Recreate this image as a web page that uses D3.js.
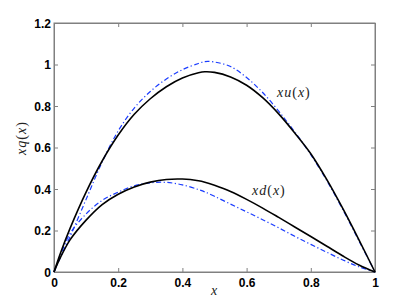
<!DOCTYPE html>
<html>
<head>
<meta charset="utf-8">
<script src="https://cdn.jsdelivr.net/npm/d3@7"></script>
<style>
  body { margin: 0; background: #fff; }
  svg { display: block; }
  .tick text { font-family: "Liberation Sans", Arial, sans-serif; font-weight: bold; font-size: 12px; fill: #000; }
  .math { font-family: "Liberation Serif", "DejaVu Serif", serif; font-size: 14px; fill: #222; }
</style>
</head>
<body>
<div id="chart"></div>
<script>
// valores
const xs = [0, 0.02, 0.05, 0.1, 0.15, 0.2, 0.25, 0.3, 0.35, 0.4, 0.45, 0.47, 0.5, 0.55, 0.6, 0.65, 0.7, 0.75, 0.8, 0.85, 0.9, 0.95, 1];
const xuFit  = [0, 0.09, 0.21, 0.385, 0.535, 0.66, 0.76, 0.835, 0.893, 0.935, 0.96, 0.965, 0.962, 0.94, 0.9, 0.84, 0.762, 0.67, 0.57, 0.445, 0.305, 0.155, 0];
const xuRef  = [0, 0.07, 0.17, 0.35, 0.53, 0.68, 0.79, 0.87, 0.93, 0.975, 1.005, 1.014, 1.012, 0.99, 0.937, 0.865, 0.775, 0.675, 0.565, 0.44, 0.3, 0.15, 0];
const xdFit  = [0, 0.07, 0.155, 0.25, 0.325, 0.375, 0.41, 0.433, 0.446, 0.448, 0.44, 0.433, 0.418, 0.388, 0.35, 0.308, 0.263, 0.217, 0.171, 0.124, 0.077, 0.034, 0];
const xdRef  = [0, 0.08, 0.185, 0.28, 0.345, 0.385, 0.415, 0.43, 0.432, 0.42, 0.397, 0.386, 0.365, 0.327, 0.29, 0.252, 0.213, 0.172, 0.133, 0.095, 0.058, 0.025, 0];

const xTicks = [0, 0.2, 0.4, 0.6, 0.8, 1];
const yTicks = [0, 0.2, 0.4, 0.6, 0.8, 1, 1.2];

const W = 415, H = 307;
const plot = { left: 54, right: 375, top: 23, bottom: 272 };

const svg = d3.select("#chart").append("svg")
    .attr("width", W)
    .attr("height", H);

const x = d3.scaleLinear().domain([0, 1]).range([plot.left, plot.right]);
const y = d3.scaleLinear().domain([0, 1.2]).range([plot.bottom, plot.top]);

const fmt = d => (d === 0 || d === 1) ? String(d) : d.toFixed(1);

// ejes con marcas hacia dentro
const gx = svg.append("g")
    .attr("transform", `translate(0, ${plot.bottom})`)
    .call(d3.axisBottom(x).tickValues(xTicks).tickFormat(fmt).tickSizeInner(-4).tickSizeOuter(0));
gx.selectAll("text").attr("y", 6).attr("dy", "0.71em");

svg.append("g")
    .attr("transform", `translate(0, ${plot.top})`)
    .call(d3.axisTop(x).tickValues(xTicks).tickFormat("").tickSizeInner(-4).tickSizeOuter(0));

const gy = svg.append("g")
    .attr("transform", `translate(${plot.left}, 0)`)
    .call(d3.axisLeft(y).tickValues(yTicks).tickFormat(fmt).tickSizeInner(-4).tickSizeOuter(0));
gy.selectAll("text").attr("x", -3).attr("dy", "0.36em");

svg.append("g")
    .attr("transform", `translate(${plot.right}, 0)`)
    .call(d3.axisRight(y).tickValues(yTicks).tickFormat("").tickSizeInner(-4).tickSizeOuter(0));

svg.selectAll(".domain").attr("stroke", "#808080");
svg.selectAll(".tick line").attr("stroke", "#808080");

svg.append("rect")
    .attr("x", plot.left).attr("y", plot.top)
    .attr("width", plot.right - plot.left).attr("height", plot.bottom - plot.top)
    .attr("fill", "none").attr("stroke", "#808080").attr("stroke-width", 1);

// curvas
const line = vals => d3.line()
    .x((d, i) => x(xs[i]))
    .y(d => y(d))
    .curve(d3.curveCatmullRom.alpha(0.5))(vals);

const series = [
    { vals: xuRef, color: "#1a3cff", width: 1.2, dash: "5,2.5,1.2,2.5" },
    { vals: xdRef, color: "#1a3cff", width: 1.2, dash: "5,2.5,1.2,2.5" },
    { vals: xuFit, color: "#000", width: 1.6, dash: null },
    { vals: xdFit, color: "#000", width: 1.6, dash: null }
];

series.forEach(s => {
    svg.append("path")
        .attr("d", line(s.vals))
        .attr("fill", "none")
        .attr("stroke", s.color)
        .attr("stroke-width", s.width)
        .attr("stroke-dasharray", s.dash);
});

// etiquetas en estilo matemático
function mathLabel(g, parts) {
    parts.forEach(([t, it]) => {
        g.append("tspan").attr("font-style", it ? "italic" : "normal").text(t);
    });
}

mathLabel(svg.append("text").attr("class", "math").attr("letter-spacing", 1).attr("x", 277).attr("y", 97),
    [["xu", true], ["(", false], ["x", true], [")", false]]);
mathLabel(svg.append("text").attr("class", "math").attr("letter-spacing", 1).attr("x", 252).attr("y", 195),
    [["xd", true], ["(", false], ["x", true], [")", false]]);

svg.append("text").attr("class", "math")
    .attr("x", 214).attr("y", 295)
    .attr("text-anchor", "middle")
    .attr("font-style", "italic")
    .text("x");

mathLabel(svg.append("text").attr("class", "math").attr("letter-spacing", 1)
    .attr("transform", "translate(26, 138) rotate(-90)")
    .attr("text-anchor", "middle"),
    [["xq", true], ["(", false], ["x", true], [")", false]]);
</script>
</body>
</html>
